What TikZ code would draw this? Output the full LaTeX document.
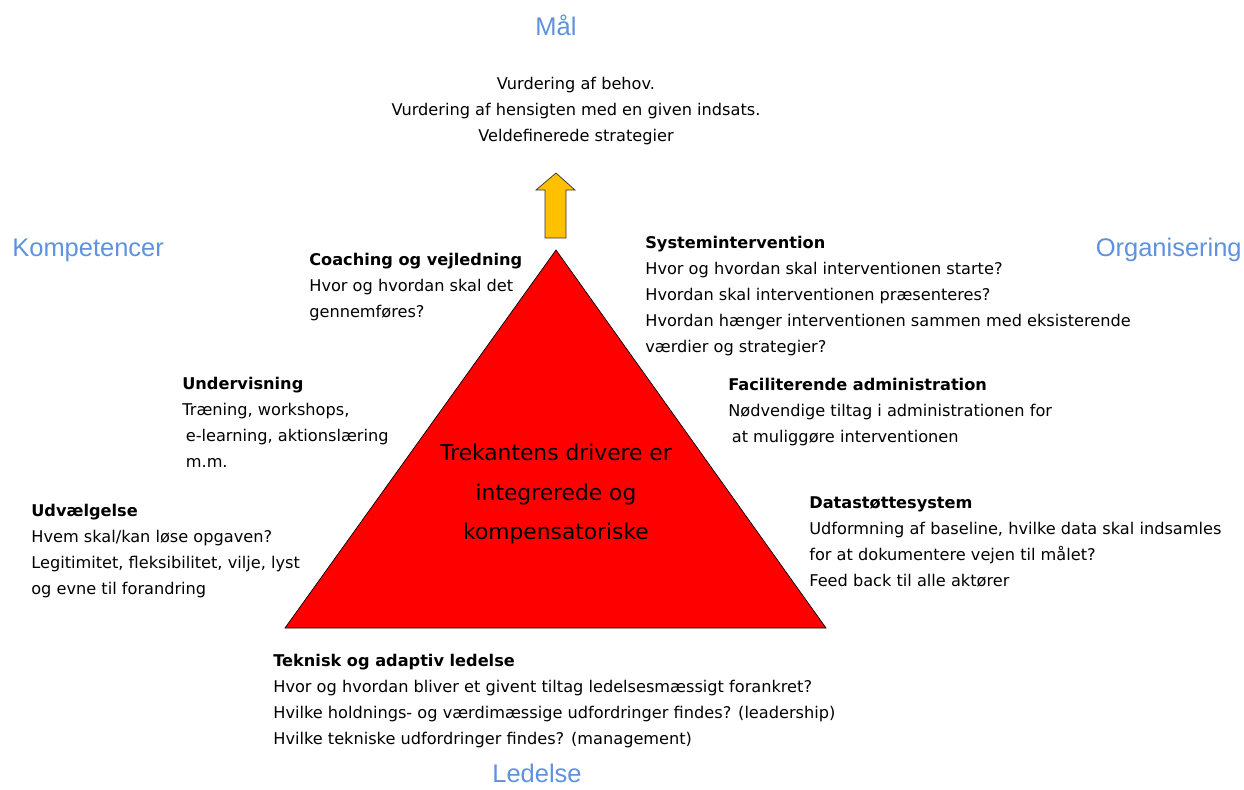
\documentclass[tikz,border=0pt]{standalone}
\usepackage{fontspec}
\setmainfont{DejaVu Sans}
\newfontfamily\headfont{Liberation Sans}
\usetikzlibrary{positioning}
\definecolor{headblue}{RGB}{95,146,222}
\definecolor{arrowgold}{RGB}{255,192,0}
\tikzset{
  corner/.style={inner sep=0, text=headblue, font=\headfont\fontsize{14.5}{17}\selectfont},
  textblock/.style={anchor=north west, inner sep=0, align=left, font=\fontsize{9.2}{14.8}\selectfont},
}

\begin{document}
\begin{tikzpicture}[x=0.02cm, y=-0.02cm]
\useasboundingbox (0,0) rectangle (1244,789);
% triangle and arrow
\coordinate (apex) at (556,250);
\coordinate (left) at (285,628);
\coordinate (right) at (826,628);
\draw[fill=red, thin] (apex) -- (left) -- (right) -- cycle;
\draw[fill=arrowgold, draw=black!80, thin] (545,238) -- (545,190) -- (536,190) -- (556,173) -- (575,190) -- (566,190) -- (566,238) -- cycle;
\node[align=center, inner sep=0, font=\fontsize{12.4}{22.7}\selectfont] (driver) at (556,494) {Trekantens drivere er\\integrerede og\\kompensatoriske};

% corners
\node[corner] (maal) at (556,25) {Mål};
\node[corner, anchor=west] (komp) at (12,250) {Kompetencer};
\node[corner, anchor=east] (org) at (1242,250) {Organisering};
\node[corner, anchor=south] (led) at (537,783) {Ledelse};

% text blocks
\node[inner sep=0, align=center, font=\fontsize{9.2}{14.8}\selectfont] (goal) at (576,111) {Vurdering af behov.\\Vurdering af hensigten med en given indsats.\\Veldefinerede strategier};
\node[textblock] (coach) at (309,253) {\textbf{Coaching og vejledning}\\Hvor og hvordan skal det\\gennemføres?};
\node[textblock] (underv) at (182,377) {\textbf{Undervisning}\\Træning, workshops,\\\hspace{2pt}e-learning, aktionslæring\\\hspace{2pt}m.m.};
\node[textblock] (udv) at (31,504) {\textbf{Udvælgelse}\\Hvem skal/kan løse opgaven?\\Legitimitet, fleksibilitet, vilje, lyst\\og evne til forandring};
\node[textblock] (system) at (645,236) {\textbf{Systemintervention}\\Hvor og hvordan skal interventionen starte?\\Hvordan skal interventionen præsenteres?\\Hvordan hænger interventionen sammen med eksisterende\\værdier og strategier?};
\node[textblock] (facil) at (728,378) {\textbf{Faciliterende administration}\\Nødvendige tiltag i administrationen for\\\hspace{2pt}at muliggøre interventionen};
\node[textblock] (data) at (809,496) {\textbf{Datastøttesystem}\\Udformning af baseline, hvilke data skal indsamles\\for at dokumentere vejen til målet?\\Feed back til alle aktører};
\node[textblock] (tekn) at (273,654) {\textbf{Teknisk og adaptiv ledelse}\\Hvor og hvordan bliver et givent tiltag ledelsesmæssigt forankret?\\Hvilke holdnings- og værdimæssige udfordringer findes? (leadership)\\Hvilke tekniske udfordringer findes? (management)};
\end{tikzpicture}
\end{document}
